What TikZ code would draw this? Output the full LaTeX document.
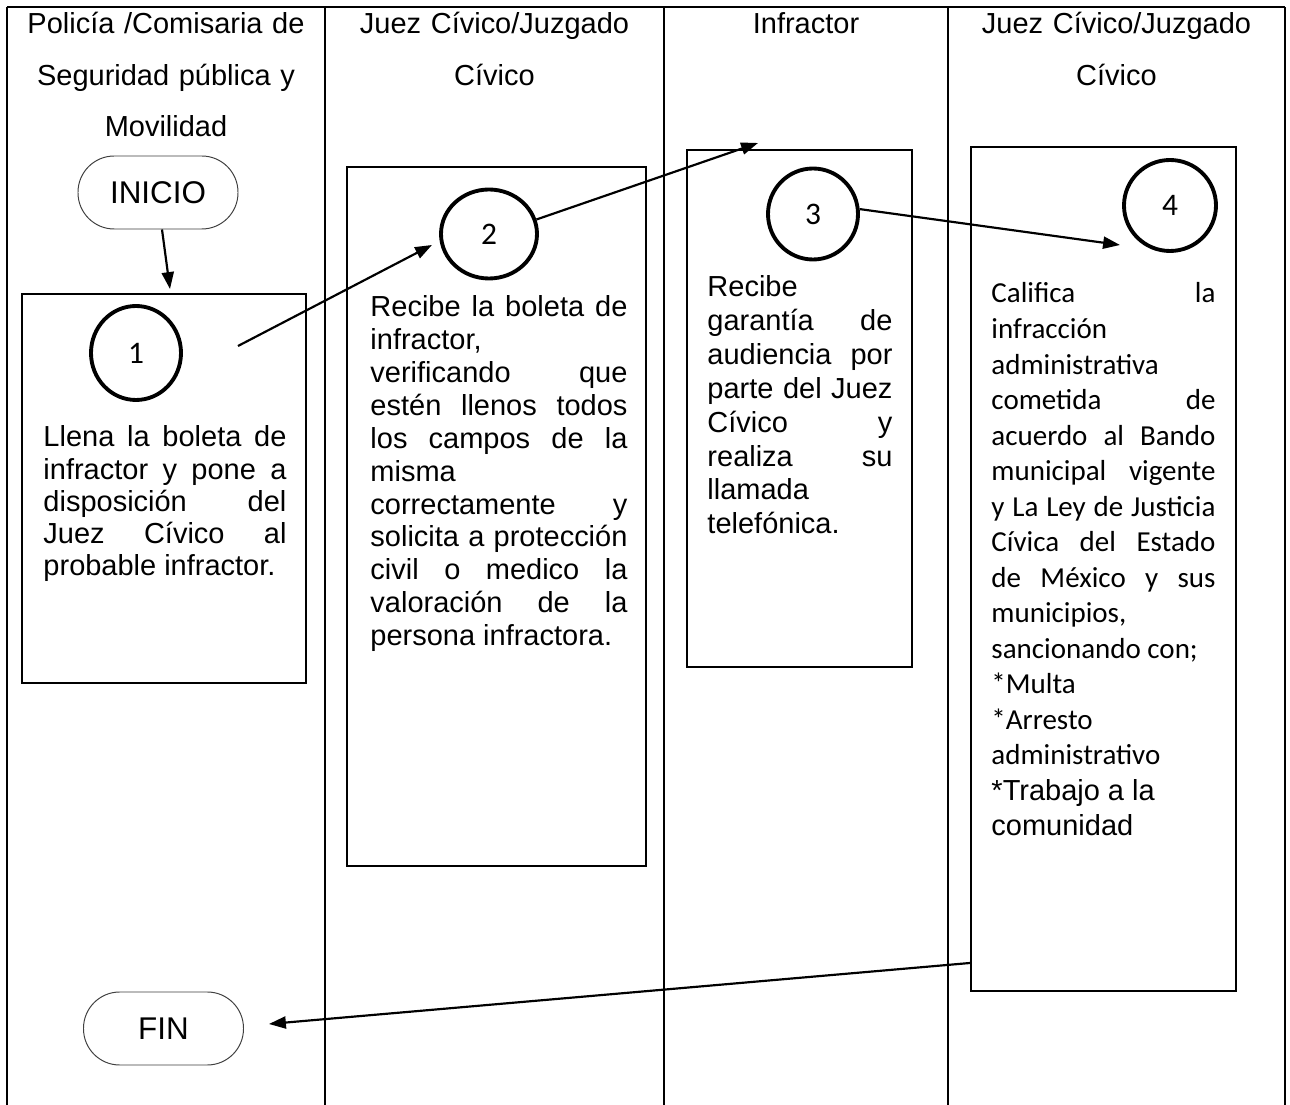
\documentclass[tikz,border=0pt]{standalone}
\usepackage{fontspec}
\setmainfont{Liberation Sans}
\newfontfamily\calibri{Carlito}
\usetikzlibrary{shapes.geometric,arrows.meta}
\newlength\px
\setlength\px{0.414pt}

\begin{document}
\begin{tikzpicture}[x=0.414pt,y=-0.414pt,
    lane/.style={line width=0.8pt},
    stepbox/.style={draw, line width=0.8pt, inner sep=0pt},
    num/.style={draw, ellipse, line width=1.6pt, inner sep=0pt, font=\calibri\fontsize{13}{15}\selectfont},
    term/.style={draw=black!75, line width=0.4pt, rounded corners=15pt, minimum width=160\px, minimum height=73\px, font=\fontsize{13}{15}\selectfont},
    flow/.style={line width=0.9pt, -{Triangle[length=7pt,width=5pt]}},
    head/.style={anchor=base, align=center, inner sep=0pt, font=\fontsize{12}{21.2}\selectfont},
    txt/.style={anchor=base west, align=justify, inner sep=0pt, execute at begin node={\tolerance=10000\hyphenpenalty=10000}}
  ]
  \path[fill=white, use as bounding box] (0,0) rectangle (1290,1105);

  % carriles
  \draw[lane] (7,7) -- (1285,7);
  \foreach \lx in {7,325,664,948,1285}
    \draw[lane] (\lx,7) -- (\lx,1105);

  \node[head, text width=318\px] (head1) at (166,34) {Policía /Comisaria de\\Seguridad pública y\\Movilidad};
  \node[head, text width=339\px] (head2) at (494.5,34) {Juez Cívico/Juzgado\\Cívico};
  \node[head, text width=284\px] (head3) at (806,34) {Infractor};
  \node[head, text width=337\px] (head4) at (1116.5,34) {Juez Cívico/Juzgado\\Cívico};

  % inicio y fin
  \node[term] (inicio) at (158,192.5) {INICIO};
  \node[term] (fin) at (163.5,1028.5) {FIN};

  % cajas
  \node[stepbox, minimum width=284\px, minimum height=389\px] (box1) at (164,488.5) {};
  \node[stepbox, minimum width=299\px, minimum height=699\px] (box2) at (496.5,516.5) {};
  \node[stepbox, minimum width=225\px, minimum height=517\px] (box3) at (799.5,408.5) {};
  \node[stepbox, minimum width=265\px, minimum height=844\px] (box4) at (1103.75,569) {};

  \node[num, minimum width=90\px, minimum height=94\px] (num1) at (136,353) {1};
  \node[num, minimum width=96\px, minimum height=89\px] (num2) at (489,234) {2};
  \node[num, minimum width=90\px, minimum height=91\px] (num3) at (813,214) {3};
  \node[num, minimum width=92\px, minimum height=91\px] (num4) at (1170,205.5) {4};

  % textos
  \node[txt, text width=243\px, font=\fontsize{12}{13.3}\selectfont] (txt1) at (43,447)
    {Llena la boleta de\linebreak infractor y pone a\linebreak disposición del\linebreak Juez Cívico al\linebreak probable infractor.};
  \node[txt, text width=257\px, font=\fontsize{12}{13.6}\selectfont] (txt2) at (370,317)
    {Recibe la boleta de\linebreak infractor,\newline verificando que\linebreak estén llenos todos\linebreak los campos de la\linebreak misma\newline correctamente y\linebreak solicita a protección\linebreak civil o medico la\linebreak valoración de la\linebreak persona infractora.};
  \node[txt, text width=185\px, font=\fontsize{12}{14}\selectfont] (txt3) at (707,297)
    {Recibe\newline garantía de\linebreak audiencia por\linebreak parte del Juez\linebreak Cívico y\linebreak realiza su\linebreak llamada\newline telefónica.};
  \node[txt, text width=224\px, font=\calibri\fontsize{12}{14.7}\selectfont] (txt4) at (991,303)
    {Califica la\linebreak infracción\newline administrativa\newline cometida de\linebreak acuerdo al Bando\linebreak municipal vigente\linebreak y La Ley de Justicia\linebreak Cívica del Estado\linebreak de México y sus\linebreak municipios,\newline sancionando con;\newline *Multa\newline *Arresto\newline administrativo\newline {\rmfamily *Trabajo a la\newline comunidad}};

  % flechas
  \coordinate (from1) at (238,346);
  \coordinate (tip2) at (432,245);
  \coordinate (tip3) at (758,143);
  \coordinate (tip4) at (1120,245);

  \draw[flow] ([xshift=4\px]inicio.south) -- ([xshift=6\px,yshift=4\px]box1.north);
  \draw[flow] (from1) -- (tip2);
  \draw[flow] (num2.17) -- (tip3);
  \draw[flow] (num3.6) -- (tip4);
  \draw[flow] ([yshift=29\px]box4.south west) -- ([xshift=25\px,yshift=4.5\px]fin.east);
\end{tikzpicture}
\end{document}
